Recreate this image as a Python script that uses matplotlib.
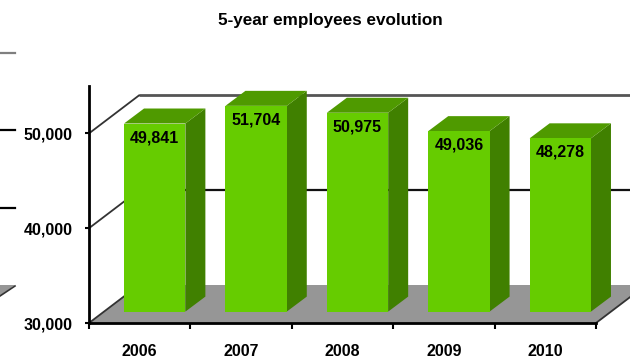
import matplotlib
matplotlib.use('Agg')
import matplotlib.pyplot as plt
import numpy as np
from matplotlib.patches import Polygon
from matplotlib.lines import Line2D
from matplotlib.ticker import FuncFormatter

years = ['2006', '2007', '2008', '2009', '2010']
employees = [49841, 51704, 50975, 49036, 48278]
yticks = [30000, 40000, 50000]
ymin, ymax = 30000, 55000

plt.rcParams['font.family'] = ['Liberation Sans', 'DejaVu Sans']
plt.rcParams['font.weight'] = 'bold'

FRONT = '#66cc00'
TOP = '#4f9a00'
SIDE = '#408000'
FLOOR = '#969696'

W, H = 630, 360
fig = plt.figure(figsize=(W / 100, H / 100), dpi=100)
ax_px = (89, 37, 507, 237)  # left, bottom, width, height in pixels
ax = fig.add_axes([ax_px[0] / W, ax_px[1] / H, ax_px[2] / W, ax_px[3] / H])
ax.set_xlim(0, len(years))
ax.set_ylim(ymin, ymax)

# data units per pixel, used for the fake 3d depth
ux = len(years) / ax_px[2]
uy = (ymax - ymin) / ax_px[3]

floor_d = (50, 38)   # depth of floor / wall
bar_off = (15, 11.4)  # front face of bars sits a bit into the floor
bar_d = (20, 15)     # depth of each bar
bw = 0.605

n = len(years)
fx, fy = floor_d[0] * ux, floor_d[1] * uy

# floor
ax.add_patch(Polygon([(0, ymin), (n, ymin), (n + fx, ymin + fy), (fx, ymin + fy)],
                     closed=True, facecolor=FLOOR, edgecolor='none',
                     clip_on=False, zorder=1))

# back wall gridlines
ax.plot([fx, n + fx], [40000 + fy] * 2, color='#111111', lw=1.6,
        clip_on=False, zorder=1.5, solid_capstyle='butt')
ax.plot([fx, n + fx], [50000 + fy] * 2, color='#555555', lw=2,
        clip_on=False, zorder=1.5, solid_capstyle='butt')

# side wall diagonals
for v in yticks:
    ax.plot([0, fx], [v, v + fy], color='#333333', lw=1.3,
            clip_on=False, zorder=1.6)
ax.plot([n, n + fx], [ymin, ymin + fy], color='#333333', lw=1.3,
        clip_on=False, zorder=1.6)

# bars: front faces via bar(), top and side faces as polygons
ox, oy = bar_off[0] * ux, bar_off[1] * uy
dx, dy = bar_d[0] * ux, bar_d[1] * uy
centers = np.arange(n) + 0.5 + ox
base = ymin + oy
ax.bar(centers, np.array(employees) - ymin, bottom=base, width=bw,
       color=FRONT, edgecolor='none', zorder=3)
for c, v in zip(centers, employees):
    x0, x1 = c - bw / 2, c + bw / 2
    top = v + oy
    ax.add_patch(Polygon([(x1, base), (x1, top), (x1 + dx, top + dy), (x1 + dx, base + dy)],
                         closed=True, facecolor=SIDE, edgecolor='none',
                         clip_on=False, zorder=2.9))
    ax.add_patch(Polygon([(x0, top), (x1, top), (x1 + dx, top + dy), (x0 + dx, top + dy)],
                         closed=True, facecolor=TOP, edgecolor='none',
                         clip_on=False, zorder=2.9))
    ax.annotate(f'{v:,}', xy=(c, v), xytext=(0, (bar_off[1] - 14) * 0.72),
                textcoords='offset points', ha='center', va='center',
                fontsize=11.5, fontweight='bold', zorder=4)

# axes
for s in ['top', 'right']:
    ax.spines[s].set_visible(False)
ax.spines['left'].set_linewidth(2)
ax.spines['bottom'].set_linewidth(2)
ax.spines['bottom'].set_zorder(2.5)

ax.set_yticks(yticks)
ax.yaxis.set_major_formatter(FuncFormatter(lambda v, p: f'{v:,.0f}'))
ax.tick_params(axis='y', length=3, width=1.5, pad=9, labelsize=11.5)

ax.set_xticks(np.arange(n + 1))
ax.set_xticklabels([])
ax.set_xticks(np.arange(n) + 0.5, minor=True)
ax.set_xticklabels(years, minor=True)
ax.tick_params(axis='x', which='major', length=4, width=1.5)
ax.tick_params(axis='x', which='minor', length=0, pad=15, labelsize=11.5)
for lbl in ax.get_xticklabels(minor=True) + ax.get_yticklabels():
    lbl.set_fontweight('bold')

fig.text(330 / W, 1 - 20 / H, '5-year employees evolution', ha='center',
         va='center', fontsize=12.3, fontweight='bold')

# stray edge of a neighbouring chart on the far left
def fpx(x, y):
    return x / W, 1 - y / H

for y, col in [(53, '#7f7f7f'), (130, '#000000'), (208, '#000000')]:
    (x0, y0), (x1, y1) = fpx(0, y), fpx(15, y)
    fig.add_artist(Line2D([x0, x1], [y0, y1], color=col, lw=1.6,
                          transform=fig.transFigure))
fig.add_artist(Polygon([fpx(0, 285), fpx(15, 285), fpx(0, 296)], closed=True,
                       facecolor=FLOOR, edgecolor='none', transform=fig.transFigure))
(x0, y0), (x1, y1) = fpx(15, 286), fpx(0, 296)
fig.add_artist(Line2D([x0, x1], [y0, y1], color='#333333', lw=1.2,
                      transform=fig.transFigure))

fig.savefig('out.png', dpi=100)
